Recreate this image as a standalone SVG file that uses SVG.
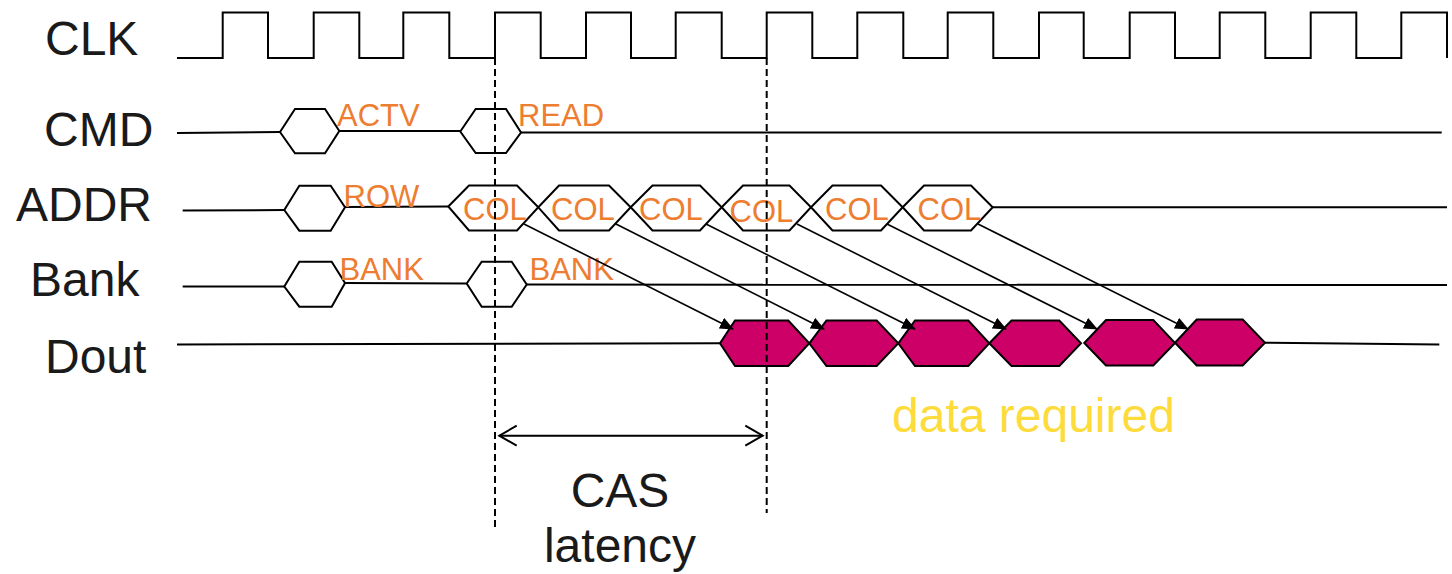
<svg xmlns="http://www.w3.org/2000/svg" width="1452" height="574" viewBox="0 0 1452 574">
<style>
.w{fill:none;stroke:#000;stroke-width:2;stroke-linejoin:miter}
.hx{fill:#fff;stroke:#000;stroke-width:2}
.dh{fill:#CC0066;stroke:#000;stroke-width:2}
.lbl{font-family:"Liberation Sans",Arial,sans-serif;font-size:48px;fill:#1a1a1a}
.or{font-family:"Liberation Sans",Arial,sans-serif;font-size:31px;fill:#ED7D31}
.yl{font-family:"Liberation Sans",Arial,sans-serif;font-size:48px;fill:#FDDB3A}
.ar{fill:none;stroke:#000;stroke-width:1.6}
.dash{fill:none;stroke:#000;stroke-width:2;stroke-dasharray:7 4}
</style>
<defs>
<marker id="ah" viewBox="0 0 14 12" refX="13" refY="6" markerWidth="14" markerHeight="12" markerUnits="userSpaceOnUse" orient="auto">
<path d="M0,0 L14,6 L0,12 Z" fill="#000"/>
</marker>
</defs>
<g id="labels">
<text class="lbl" x="45" y="55">CLK</text>
<text class="lbl" x="44" y="146">CMD</text>
<text class="lbl" x="16" y="221">ADDR</text>
<text class="lbl" x="30" y="296">Bank</text>
<text class="lbl" x="45" y="372.5">Dout</text>
</g>
<g id="clk">
<polyline class="w" points="177,58 222.7,58 222.7,12.5 268,12.5 268,58 313.7,58 313.7,12.5 359.3,12.5 359.3,58 403.3,58 403.3,12.5 449.3,12.5 449.3,58 495,58 495,12.5 540.7,12.5 540.7,58 586,58 586,12.5 631,12.5 631,58 675.7,58 675.7,12.5 721.7,12.5 721.7,58 766.7,58 766.7,12.5 812.3,12.5 812.3,58 857.3,58 857.3,12.5 903.3,12.5 903.3,58 947.7,58 947.7,12.5 993.3,12.5 993.3,58 1039,58 1039,12.5 1083.7,12.5 1083.7,58 1129.7,58 1129.7,12.5 1175,12.5 1175,58 1219.7,58 1219.7,12.5 1265.3,12.5 1265.3,58 1310.7,58 1310.7,12.5 1356.3,12.5 1356.3,58 1401.3,58 1401.3,12.5 1447,12.5 1447,58"/>
</g>
<g id="cmd">
<polyline class="w" points="177,133 280,132"/>
<polygon class="hx" points="280,132 295,109 325,109 339.3,131 325,153.3 295,153.3"/>
<polyline class="w" points="339.3,131 460.3,131"/>
<polygon class="hx" points="460.3,131.5 475.7,109 506,109 521,132.5 506,153 475.7,153"/>
<polyline class="w" points="521,132.5 1441.7,132.5"/>
<text class="or" x="337" y="126">ACTV</text>
<text class="or" x="518" y="126">READ</text>
</g>
<g id="addr">
<polyline class="w" points="182.7,210.5 284.3,210"/>
<polygon class="hx" points="284.3,210 299.3,185.7 330.7,185.7 345,207.3 330.7,230.7 299.3,230.7"/>
<polyline class="w" points="345,207 448.3,206.5"/>
<polygon class="hx" points="448.3,206.5 469,185.5 517,185.5 538.3,207.3 517,230.5 469,230.5"/>
<polygon class="hx" points="538.3,207.3 559,185.5 609,185.5 630.7,207.3 609,230.5 559,230.5"/>
<polygon class="hx" points="630.7,207.3 652.5,185.5 700,185.5 721.7,207.3 700,230.5 652.5,230.5"/>
<polygon class="hx" points="721.7,207.3 743,185.5 789.5,185.5 811,207.3 789.5,230.5 743,230.5"/>
<polygon class="hx" points="811,207.3 832.5,185.5 881,185.5 902.7,207.3 881,230.5 832.5,230.5"/>
<polygon class="hx" points="902.7,207.3 924,185.5 971,185.5 992.7,207.3 971,230.5 924,230.5"/>
<polyline class="w" points="992.7,207.3 1447,207.3"/>
<text class="or" x="343.5" y="206.5">ROW</text>
<text class="or" x="463" y="219.5">COL</text>
<text class="or" x="551" y="219.5">COL</text>
<text class="or" x="639" y="219.5">COL</text>
<text class="or" x="729.5" y="222">COL</text>
<text class="or" x="825" y="219.5">COL</text>
<text class="or" x="917.5" y="219.5">COL</text>
</g>
<g id="bank">
<polyline class="w" points="182.7,286.5 284.3,286.5"/>
<polygon class="hx" points="284.3,286.5 299.3,261.7 331.7,261.7 345,283 331.7,306.7 299.3,306.7"/>
<polyline class="w" points="345,283 466.7,283.5"/>
<polygon class="hx" points="466.7,283.5 481.7,261.7 511.7,261.7 526.7,284.5 511.7,306.7 481.7,306.7"/>
<polyline class="w" points="526.7,284.5 1447,285"/>
<text class="or" x="339.5" y="280">BANK</text>
<text class="or" x="529.5" y="280">BANK</text>
</g>
<g id="dout">
<polyline class="w" points="177,344.5 720,343.3"/>
<polygon class="dh" points="720,343.3 735,320.5 788.3,320.5 809.3,343.3 788.3,366 735,366"/>
<polygon class="dh" points="809.3,343.3 826.5,320.5 876.7,320.5 898.3,343.3 876.7,366 826.5,366"/>
<polygon class="dh" points="898.3,343.3 915,320.5 968.3,320.5 989.3,343.3 968.3,366 915,366"/>
<polygon class="dh" points="989.3,343.3 1011.5,320.5 1059.3,320.5 1081,343.3 1059.3,366 1011.5,366"/>
<polygon class="dh" points="1084.3,343 1106,320 1153.3,320 1175,343 1153.3,365.5 1106,365.5"/>
<polygon class="dh" points="1175,342.7 1196.7,319.5 1242.7,319.5 1265,342.7 1242.7,365.5 1196.7,365.5"/>
<polyline class="w" points="1265,342.7 1439.3,344.5"/>
<text class="yl" x="892" y="431.5">data required</text>
</g>
<g id="connectors">
<line class="ar" x1="524" y1="224" x2="733" y2="329" marker-end="url(#ah)"/>
<line class="ar" x1="615" y1="223.5" x2="824" y2="329" marker-end="url(#ah)"/>
<line class="ar" x1="706" y1="224" x2="915" y2="329" marker-end="url(#ah)"/>
<line class="ar" x1="797" y1="224" x2="1006" y2="329" marker-end="url(#ah)"/>
<line class="ar" x1="887" y1="224" x2="1097" y2="329" marker-end="url(#ah)"/>
<line class="ar" x1="978" y1="224" x2="1188" y2="329" marker-end="url(#ah)"/>
</g>
<g id="cas">
<line class="dash" x1="495" y1="58" x2="495" y2="527"/>
<line class="dash" x1="766.7" y1="58" x2="766.7" y2="513"/>
<line class="w" x1="499.3" y1="435.7" x2="762.7" y2="435.7"/>
<polyline class="w" points="516.7,425.7 499.3,435.7 516.7,445.7"/>
<polyline class="w" points="745.3,425.7 762.7,435.7 745.3,445.7"/>
<text class="lbl" x="620" y="506.5" text-anchor="middle">CAS</text>
<text class="lbl" x="620" y="561.5" text-anchor="middle">latency</text>
</g>
</svg>
